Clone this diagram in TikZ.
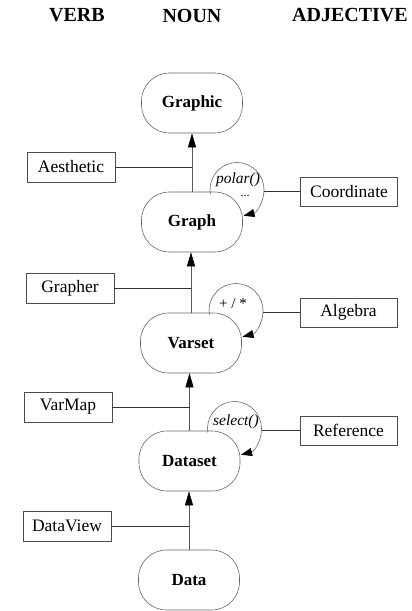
\documentclass[tikz,border=0pt]{standalone}
\usepackage{fontspec}
\setmainfont{Liberation Serif}
\newfontfamily\tms{Liberation Serif}
\usetikzlibrary{arrows.meta,calc}
\begin{document}
\begin{tikzpicture}[x=1pt,y=1pt,
  noun/.style={draw=black!60, line width=0.6pt, rounded corners=28pt, minimum width=101pt, minimum height=60pt, inner sep=0pt, font=\tms\fontsize{17}{20}\selectfont\bfseries},
  verbbox/.style={draw=black!70, line width=0.6pt, minimum width=88pt, minimum height=30pt, inner sep=0pt, font=\tms\fontsize{17.5}{20}\selectfont},
  adjbox/.style={verbbox, minimum width=97pt, minimum height=29pt},
  head/.style={font=\tms\fontsize{20}{24}\selectfont\bfseries, inner sep=0pt},
  flow/.style={draw=black!65, line width=0.6pt, -{Triangle[length=14pt,width=8pt,black]}},
  link/.style={draw=black!80, line width=0.6pt},
  loopc/.style={draw=black!60, line width=0.6pt, -{Triangle[length=11pt,width=8pt,black]}},
  lbl/.style={font=\tms\fontsize{15.5}{17}\selectfont\itshape, inner sep=0pt}
]
\useasboundingbox (0,0) rectangle (412,-611);

% headers
\node[head] (hverb) at (77,-15.5) {VERB};
\node[head] (hnoun) at (192,-15.5) {NOUN};
\node[head] (hadj) at (350,-15.5) {ADJECTIVE};

% nouns
\node[noun] (graphic) at (192,-103) {Graphic};
\node[noun] (graph) at (192,-222) {Graph};
\node[noun] (varset) at (191,-343) {Varset};
\node[noun] (dataset) at (189.5,-461) {Dataset};
\node[noun] (data) at (189,-580) {Data};

% verbs
\node[verbbox] (aes) at (71,-167) {Aesthetic};
\node[verbbox] (grapher) at (70,-288) {Grapher};
\node[verbbox] (varmap) at (68,-407) {VarMap};
\node[verbbox] (dataview) at (67,-526) {DataView};

% adjectives
\node[adjbox] (coord) at (349,-191.5) {Coordinate};
\node[adjbox] (algebra) at (348.5,-312.5) {Algebra};
\node[adjbox] (reference) at (348.5,-430.5) {Reference};

% main flow
\draw[flow] (graph.north) -- (graph.north |- graphic.south);
\draw[flow] (varset.north) -- (varset.north |- graph.south);
\draw[flow] (dataset.north) -- (dataset.north |- varset.south);
\draw[flow] (data.north) -- (data.north |- dataset.south);

% verb links
\draw[link] (aes.east) -- (aes.east -| graph.north);
\draw[link] (grapher.east) -- (grapher.east -| varset.north);
\draw[link] (varmap.east) -- (varmap.east -| dataset.north);
\draw[link] (dataview.east) -- (dataview.east -| data.north);

% loops
\foreach \n/\a in {graph/gl, varset/vl, dataset/dl}{
  \coordinate (\a) at ($(\n.center)+(45,32.5)$);
  \coordinate (\a e) at ($(\a)+(27,0)$);
  \draw[loopc] ($(\a)+(190:27)$) arc[start angle=190, end angle=-76, radius=27];
}
\node[lbl] (polar) at ($(gl)+(1,10)$) {polar()};
\node[font=\tms\fontsize{12}{12}\selectfont, inner sep=0pt] (pdots) at ($(gl)+(8,-6)$) {...};
\node[font=\tms\fontsize{15}{16}\selectfont, inner sep=0pt] (alg) at ($(vl)+(-3,7)$) {+ / *};
\node[lbl] (select) at ($(dl)+(1.5,6.5)$) {select()};

% adjective links
\draw[link] (coord.west) -- (coord.west -| gle);
\draw[link] (algebra.west) -- (algebra.west -| vle);
\draw[link] (reference.west) -- (reference.west -| dle);
\end{tikzpicture}
\end{document}
